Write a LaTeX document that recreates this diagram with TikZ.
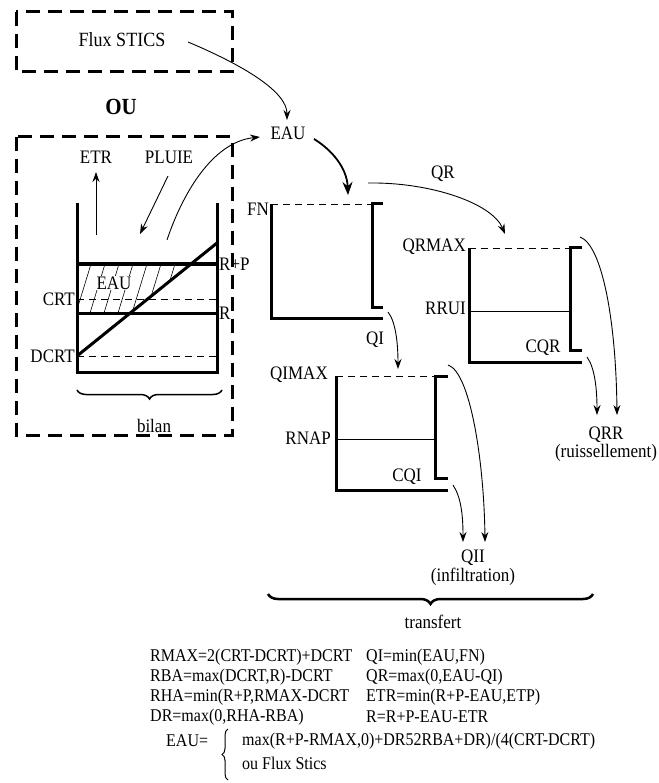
\documentclass[tikz,border=0pt]{standalone}
\usepackage{fontspec}
\setmainfont{Liberation Serif}
\usetikzlibrary{decorations.pathreplacing,arrows.meta}
\begin{document}
\begin{tikzpicture}[x=1pt,y=-1pt,
  lbl/.style={font=\fontsize{17}{19}\selectfont, inner sep=0pt, yscale=1.12},
  eq/.style={font=\fontsize{16}{18}\selectfont, inner sep=0pt, anchor=west, yscale=1.12},
  wall/.style={line width=3pt},
  dbox/.style={line width=3pt, dash pattern=on 14pt off 8pt},
  thinl/.style={line width=0.8pt},
  dashl/.style={line width=0.9pt, dash pattern=on 7pt off 5pt},
  arr/.style={line width=0.9pt, -{Stealth[length=10pt,width=7pt]}},
  bigarr/.style={line width=1.8pt, -{Stealth[length=13pt,width=10pt]}},
  brc/.style={decorate, decoration={brace, amplitude=9pt, mirror}, line width=1.5pt},
]
\useasboundingbox (0,0) rectangle (658,783);

% ---- top box
\draw[dbox] (16,12) rectangle (232,72);
\node[lbl, font=\fontsize{18}{20}\selectfont] (flux) at (122,40) {Flux STICS};
\node[font=\bfseries\fontsize{21}{23}\selectfont, inner sep=0pt, yscale=1.1] (ou) at (121,107) {OU};

% ---- left box (bilan)
\draw[dbox] (16,137) rectangle (232,435);

% hatch
\begin{scope}
  \clip (77,264) -- (191,264) -- (130.3,313) -- (77,313) -- cycle;
  \foreach \x in {48,62,...,200} \draw[line width=0.6pt] (\x,313) -- (\x+15,264);
\end{scope}
\node[lbl, fill=white, inner sep=1pt] (eaub) at (114,283) {EAU};

\draw[wall] (77,203) -- (77,372) -- (217,372) -- (217,203);
\draw[wall] (77,264) -- (217,264);
\draw[dashl] (77,299) -- (217,299);
\draw[wall] (77,313) -- (217,313);
\draw[dashl] (77,356) -- (217,356);
\draw[wall] (77,356) -- (217,243);

\node[lbl, anchor=west] (rp) at (219,264) {R+P};
\node[lbl, anchor=west] (r) at (219,313) {R};
\node[lbl, anchor=east] (crt) at (75,299) {CRT};
\node[lbl, anchor=east] (dcrt) at (75,356) {DCRT};

\node[lbl] (etr) at (96,157) {ETR};
\coordinate (etrfoot) at (96,235);
\coordinate (etrtip) at (96,172);
\draw[arr] (etrfoot) -- (etrtip);

\node[lbl] (pluie) at (169,157) {PLUIE};
\coordinate (pluiestart) at (168,176);
\coordinate (pluieend) at (140,234);
\draw[arr] (pluiestart) -- (pluieend);

\draw[brc] (77,390) -- (222,390);
\node[lbl] (bilan) at (154,426) {bilan};

% ---- EAU
\node[lbl] (eau) at (288,133) {EAU};
\coordinate (fluxout) at (188,42);
\coordinate (eautop) at (287,120);
\draw[arr] (fluxout) .. controls (245,66) and (287,92) .. (eautop);
\coordinate (tankout) at (167,240);
\coordinate (eauin) at (260,137);
\draw[arr] (tankout) .. controls (182,195) and (212,142) .. (eauin);

% ---- FN reservoir
\draw[wall] (271,204) -- (271,318) -- (383,318);
\draw[wall] (383,204) -- (372,204) -- (372,307) -- (383,307);
\draw[dashl] (271,204) -- (372,204);
\node[lbl, anchor=east] (fn) at (269,209) {FN};
\coordinate (eauout) at (314,139);
\coordinate (fnin) at (348,195);
\draw[bigarr] (eauout) .. controls (332,150) and (347,168) .. (fnin);

% ---- QR
\coordinate (qrstart) at (368,183);
\coordinate (qrend) at (505,234);
\draw[arr] (qrstart) .. controls (430,182) and (492,203) .. (qrend);
\node[lbl] (qr) at (443,174) {QR};

% ---- QRMAX reservoir
\draw[wall] (469,248) -- (469,362) -- (582,362);
\draw[wall] (582,248) -- (570,248) -- (570,350) -- (582,350);
\draw[dashl] (469,248) -- (570,248);
\draw[thinl] (469,311) -- (570,311);
\node[lbl, anchor=east] (qrmax) at (466,247) {QRMAX};
\node[lbl, anchor=east] (rrui) at (466,308) {RRUI};
\node[lbl] (cqr) at (543,348) {CQR};

\node[lbl] (qrr) at (606,435) {QRR};
\node[lbl] (ruis) at (606,453) {(ruissellement)};
\coordinate (qra) at (587,357);
\coordinate (qrb) at (580,237);
\coordinate (qrra) at (597,415);
\coordinate (qrrb) at (617,415);
\draw[arr] (qra) .. controls (595,368) and (597,390) .. (qrra);
\draw[arr] (qrb) .. controls (602,245) and (616,320) .. (qrrb);

% ---- QI
\coordinate (qistart) at (388,312);
\coordinate (qiend) at (398,369);
\draw[arr] (qistart) .. controls (396,322) and (398,345) .. (qiend);
\node[lbl] (qi) at (375,340) {QI};

% ---- QIMAX reservoir
\draw[wall] (336,376) -- (336,490) -- (448,490);
\draw[wall] (448,376) -- (435,376) -- (435,478) -- (448,478);
\draw[dashl] (336,376) -- (435,376);
\draw[thinl] (336,439) -- (435,439);
\node[lbl, anchor=east] (qimax) at (328,375) {QIMAX};
\node[lbl, anchor=east] (rnap) at (331,438) {RNAP};
\node[lbl] (cqi) at (407,477) {CQI};

\node[lbl] (qii) at (473,558) {QII};
\node[lbl] (infil) at (473,577) {(infiltration)};
\coordinate (qia) at (453,485);
\coordinate (qib) at (448,365);
\coordinate (qiia) at (463,542);
\coordinate (qiib) at (485,542);
\draw[arr] (qia) .. controls (461,497) and (463,515) .. (qiia);
\draw[arr] (qib) .. controls (470,372) and (484,460) .. (qiib);

% ---- transfert
\draw[brc, line width=2.5pt, decoration={amplitude=10pt}] (268,594) -- (593,594);
\node[lbl] (transf) at (433,622) {transfert};

% ---- equations
\node[eq] (e1) at (150,657) {RMAX=2(CRT-DCRT)+DCRT};
\node[eq] (e2) at (150,677) {RBA=max(DCRT,R)-DCRT};
\node[eq] (e3) at (150,697) {RHA=min(R+P,RMAX-DCRT};
\node[eq] (e4) at (150,717) {DR=max(0,RHA-RBA)};
\node[eq] (e5) at (366,657) {QI=min(EAU,FN)};
\node[eq] (e6) at (366,677) {QR=max(0,EAU-QI)};
\node[eq] (e7) at (366,697) {ETR=min(R+P-EAU,ETP)};
\node[eq] (e8) at (366,717) {R=R+P-EAU-ETR};
\node[eq] (e9) at (166,741) {EAU=};
\draw[decorate, decoration={brace, amplitude=6pt}, line width=1pt] (228,780) -- (228,729);
\node[eq] (e10) at (242,741) {max(R+P-RMAX,0)+DR52RBA+DR)/(4(CRT-DCRT)};
\node[eq] (e11) at (242,763) {ou Flux Stics};
\end{tikzpicture}
\end{document}
